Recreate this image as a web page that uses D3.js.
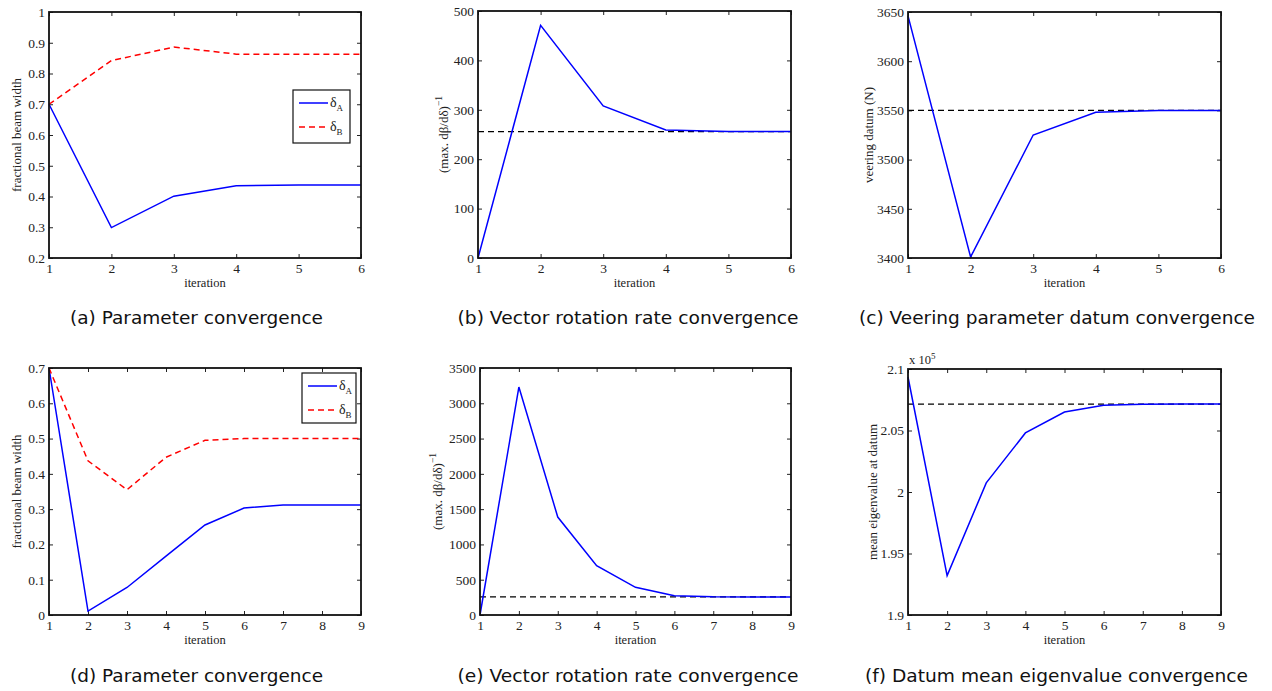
<!DOCTYPE html>
<html><head><meta charset="utf-8">
<script src="https://cdn.jsdelivr.net/npm/d3@7"></script>
<style>
body{margin:0;background:#fff;}
svg text{font-family:"Liberation Serif","DejaVu Serif",serif;fill:#222;}
.cap{font-family:"DejaVu Sans","Lato",sans-serif;font-size:18.5px;fill:#111;}
</style></head><body>
<svg id="c" width="1272" height="691"></svg>
<script>
// ---- data ----
const iter6 = [1,2,3,4,5,6];
const iter9 = [1,2,3,4,5,6,7,8,9];
const aDeltaA = [0.70,0.299,0.401,0.435,0.437,0.437];
const aDeltaB = [0.70,0.842,0.886,0.863,0.863,0.863];
const bRate = [0,471,308,259,256,256];
const bRef = 256;
const cDatum = [3646,3401,3525,3548,3550,3550];
const cRef = 3550;
const dDeltaA = [0.70,0.011,0.078,0.167,0.255,0.303,0.312,0.312,0.312];
const dDeltaB = [0.70,0.437,0.355,0.447,0.495,0.500,0.500,0.500,0.500];
const eRate = [0,3230,1388,700,392,272,257,256,256];
const eRef = 256;
const fEig = [2.0935,1.932,2.0074,2.048,2.065,2.0706,2.0714,2.0715,2.0715]; // x 10^5
const fRef = 2.0715;
const yTicksA = [0.2,0.3,0.4,0.5,0.6,0.7,0.8,0.9,1];
const yTicksB = [0,100,200,300,400,500];
const yTicksC = [3400,3450,3500,3550,3600,3650];
const yTicksD = [0,0.1,0.2,0.3,0.4,0.5,0.6,0.7];
const yTicksE = [0,500,1000,1500,2000,2500,3000,3500];
const yTicksF = [1.9,1.95,2,2.05,2.1];
const captions = ["(a) Parameter convergence","(b) Vector rotation rate convergence","(c) Veering parameter datum convergence",
                  "(d) Parameter convergence","(e) Vector rotation rate convergence","(f) Datum mean eigenvalue convergence"];
const legendNames = ["A","B"];

const svg = d3.select("#c");
const BLUE = "#0000ff", RED = "#ff0000";

function panel(o){
  const g = svg.append("g");
  const x = d3.scaleLinear().domain([o.xs[0], o.xs[o.xs.length-1]]).range([o.l, o.r]);
  const y = d3.scaleLinear().domain([o.yTicks[0], o.yTicks[o.yTicks.length-1]]).range([o.b, o.t]);
  const tk = 4;
  const fmt = v => String(v);
  g.append("g").attr("transform",`translate(0,${o.b})`)
    .call(d3.axisBottom(x).tickValues(o.xs).tickSize(-tk).tickPadding(5).tickFormat(fmt));
  g.append("g").attr("transform",`translate(0,${o.t})`)
    .call(d3.axisTop(x).tickValues(o.xs).tickSize(-tk).tickFormat(""));
  g.append("g").attr("transform",`translate(${o.l},0)`)
    .call(d3.axisLeft(y).tickValues(o.yTicks).tickSize(-tk).tickPadding(4).tickFormat(fmt));
  g.append("g").attr("transform",`translate(${o.r},0)`)
    .call(d3.axisRight(y).tickValues(o.yTicks).tickSize(-tk).tickFormat(""));
  g.selectAll(".domain").remove();
  g.selectAll(".tick line").attr("stroke","#222").attr("stroke-width",1);
  g.selectAll(".tick text").style("font-size","13.5px").attr("fill","#222")
    .style("font-family","'Liberation Serif',serif");
  if(o.ref!==undefined){
    g.append("line").attr("x1",o.l).attr("x2",o.r).attr("y1",y(o.ref)).attr("y2",y(o.ref))
      .attr("stroke","#000").attr("stroke-width",1.3).attr("stroke-dasharray","6,4");
  }
  const line = d3.line().x((d,i)=>x(o.xs[i])).y(d=>y(d));
  o.series.forEach(s=>{
    g.append("path").datum(s.v).attr("d",line).attr("fill","none")
      .attr("stroke",s.c).attr("stroke-width",1.5)
      .attr("stroke-dasharray",s.dash?"6,4":null);
  });
  g.append("rect").attr("x",o.l).attr("y",o.t).attr("width",o.r-o.l).attr("height",o.b-o.t)
    .attr("fill","none").attr("stroke","#111").attr("stroke-width",1.8);
  g.append("text").attr("x",(o.l+o.r)/2).attr("y",o.b+29).attr("text-anchor","middle")
    .style("font-size","12.5px").text("iteration");
  const yl = g.append("text").attr("transform",`translate(${o.ylx},${(o.t+o.b)/2}) rotate(-90)`)
    .attr("text-anchor","middle").style("font-size","13px");
  if(o.ylabelSup){
    yl.append("tspan").text(o.ylabel);
    yl.append("tspan").attr("dy",-6).style("font-size","9.5px").text(o.ylabelSup);
  } else yl.text(o.ylabel);
  if(o.mult){
    const m = g.append("text").attr("x",o.l+1).attr("y",o.t-5).style("font-size","12.5px");
    m.append("tspan").text("x 10");
    m.append("tspan").attr("dy",-5).style("font-size","9px").text("5");
  }
  if(o.legend){
    const L = o.legend;
    g.append("rect").attr("x",L.x).attr("y",L.y).attr("width",L.w).attr("height",L.h)
      .attr("fill","#fff").attr("stroke","#111").attr("stroke-width",1.2);
    o.series.forEach((s,i)=>{
      const yy = L.y + 13 + i*24;
      g.append("line").attr("x1",L.x+6).attr("x2",L.x+35).attr("y1",yy).attr("y2",yy)
        .attr("stroke",s.c).attr("stroke-width",1.5).attr("stroke-dasharray",s.dash?"6,4":null);
      const t = g.append("text").attr("x",L.x+37).attr("y",yy+4).style("font-size","14px");
      t.append("tspan").text("δ");
      t.append("tspan").attr("dy",4).style("font-size","9px").text(legendNames[i]);
    });
  }
  svg.append("text").attr("class","cap").attr("x",o.capx).attr("y",o.capy).attr("text-anchor","middle")
    .attr("textLength",o.capw).attr("lengthAdjust","spacingAndGlyphs").text(o.cap);
}

panel({xs:iter6,yTicks:yTicksA,l:49,r:361,t:12,b:258,ylx:21,ylabel:"fractional beam width",
  series:[{v:aDeltaA,c:BLUE},{v:aDeltaB,c:RED,dash:true}],legend:{x:293,y:90,w:57,h:53},
  cap:captions[0],capx:196.5,capy:324,capw:253});
panel({xs:iter6,yTicks:yTicksB,l:478,r:791,t:11,b:258,ylx:448,ylabel:"(max. dβ/dδ)",ylabelSup:"−1",
  series:[{v:bRate,c:BLUE}],ref:bRef,cap:captions[1],capx:628,capy:324,capw:341});
panel({xs:iter6,yTicks:yTicksC,l:908,r:1221,t:12,b:258,ylx:873,ylabel:"veering datum (N)",
  series:[{v:cDatum,c:BLUE}],ref:cRef,cap:captions[2],capx:1057,capy:324,capw:396});
panel({xs:iter9,yTicks:yTicksD,l:49,r:361,t:368,b:615,ylx:21,ylabel:"fractional beam width",
  series:[{v:dDeltaA,c:BLUE},{v:dDeltaB,c:RED,dash:true}],legend:{x:302,y:373,w:54,h:50},
  cap:captions[3],capx:196.5,capy:682,capw:253});
panel({xs:iter9,yTicks:yTicksE,l:480,r:791,t:368,b:615,ylx:442,ylabel:"(max. dβ/dδ)",ylabelSup:"−1",
  series:[{v:eRate,c:BLUE}],ref:eRef,cap:captions[4],capx:628,capy:682,capw:341});
panel({xs:iter9,yTicks:yTicksF,l:908,r:1221,t:369,b:615,ylx:877,ylabel:"mean eigenvalue at datum",
  series:[{v:fEig,c:BLUE}],ref:fRef,mult:true,cap:captions[5],capx:1056.5,capy:682,capw:383});
</script></body></html>
